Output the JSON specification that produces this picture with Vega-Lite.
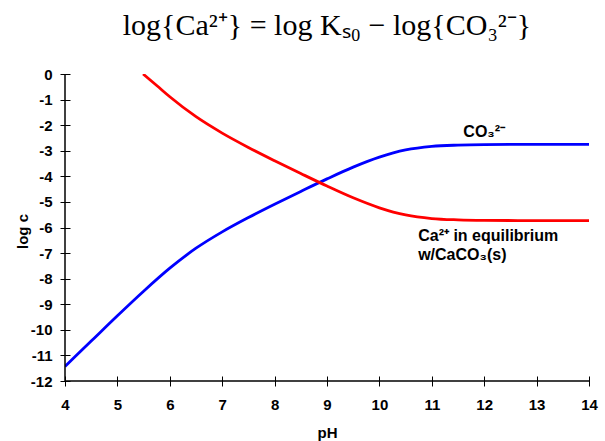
{
  "$schema": "https://vega.github.io/schema/vega-lite/v6.json",
  "width": 524,
  "height": 307,
  "autosize": {"type": "none"},
  "padding": {"left": 65, "top": 74, "right": 16, "bottom": 60},
  "background": "white",
  "title": {
    "text": "log{Ca²⁺} = log Kₛ₀ − log{CO₃²⁻}",
    "font": "Liberation Serif",
    "fontSize": 30,
    "fontWeight": "normal",
    "color": "black",
    "offset": 26
  },
  "config": {"view": {"stroke": null}},
  "datasets": {
    "curves": [
      {"pH": 4, "v": -11.43, "s": "CO3"},
      {"pH": 4.5, "v": -10.44, "s": "CO3"},
      {"pH": 5, "v": -9.45, "s": "CO3"},
      {"pH": 5.5, "v": -8.49, "s": "CO3"},
      {"pH": 6, "v": -7.59, "s": "CO3"},
      {"pH": 6.5, "v": -6.81, "s": "CO3"},
      {"pH": 7, "v": -6.17, "s": "CO3"},
      {"pH": 7.5, "v": -5.61, "s": "CO3"},
      {"pH": 8, "v": -5.09, "s": "CO3"},
      {"pH": 8.5, "v": -4.59, "s": "CO3"},
      {"pH": 9, "v": -4.1, "s": "CO3"},
      {"pH": 9.5, "v": -3.64, "s": "CO3"},
      {"pH": 10, "v": -3.25, "s": "CO3"},
      {"pH": 10.5, "v": -2.97, "s": "CO3"},
      {"pH": 11, "v": -2.83, "s": "CO3"},
      {"pH": 11.5, "v": -2.78, "s": "CO3"},
      {"pH": 12, "v": -2.76, "s": "CO3"},
      {"pH": 13, "v": -2.75, "s": "CO3"},
      {"pH": 14, "v": -2.75, "s": "CO3"},
      {"pH": 5.49, "v": 0, "s": "Ca"},
      {"pH": 5.75, "v": -0.45, "s": "Ca"},
      {"pH": 6, "v": -0.89, "s": "Ca"},
      {"pH": 6.5, "v": -1.67, "s": "Ca"},
      {"pH": 7, "v": -2.31, "s": "Ca"},
      {"pH": 7.5, "v": -2.87, "s": "Ca"},
      {"pH": 8, "v": -3.39, "s": "Ca"},
      {"pH": 8.5, "v": -3.89, "s": "Ca"},
      {"pH": 9, "v": -4.38, "s": "Ca"},
      {"pH": 9.5, "v": -4.84, "s": "Ca"},
      {"pH": 10, "v": -5.23, "s": "Ca"},
      {"pH": 10.5, "v": -5.51, "s": "Ca"},
      {"pH": 11, "v": -5.65, "s": "Ca"},
      {"pH": 11.5, "v": -5.7, "s": "Ca"},
      {"pH": 12, "v": -5.72, "s": "Ca"},
      {"pH": 13, "v": -5.73, "s": "Ca"},
      {"pH": 14, "v": -5.73, "s": "Ca"}
    ],
    "labelCO3": [{"pH": 12.0, "v": -2.46, "t": "CO₃²⁻"}],
    "labelCa": [{"pH": 10.74, "v": -6.52, "t": "Ca²⁺ in equilibrium\nw/CaCO₃(s)"}],
    "frame": [
      {"pH": 4, "v": -12, "pH2": 4, "v2": 0},
      {"pH": 4, "v": -12, "pH2": 14, "v2": -12}
    ]
  },
  "encoding": {
    "x": {
      "field": "pH",
      "type": "quantitative",
      "scale": {"domain": [4, 14], "nice": false, "zero": false},
      "axis": {
        "title": "pH",
        "values": [4, 5, 6, 7, 8, 9, 10, 11, 12, 13, 14],
        "offset": -5,
        "tickSize": 10,
        "tickColor": "black",
        "tickWidth": 1,
        "domain": false,
        "grid": false,
        "labelFlush": false,
        "labelOverlap": false,
        "labelPadding": 11,
        "labelFont": "Liberation Sans",
        "labelFontSize": 15,
        "labelFontWeight": "bold",
        "labelColor": "black",
        "titleFont": "Liberation Sans",
        "titleFontSize": 15,
        "titleFontWeight": "bold",
        "titleColor": "black",
        "titleY": 61,
        "titleBaseline": "alphabetic"
      }
    },
    "y": {
      "field": "v",
      "type": "quantitative",
      "scale": {"domain": [-12, 0], "nice": false, "zero": false},
      "axis": {
        "title": "log c",
        "values": [0, -1, -2, -3, -4, -5, -6, -7, -8, -9, -10, -11, -12],
        "labelExpr": "toString(datum.value)",
        "offset": -5,
        "tickSize": 10,
        "tickColor": "black",
        "tickWidth": 1,
        "domain": false,
        "grid": false,
        "labelOverlap": false,
        "labelPadding": 8,
        "labelFont": "Liberation Sans",
        "labelFontSize": 15,
        "labelFontWeight": "bold",
        "labelColor": "black",
        "titleFont": "Liberation Sans",
        "titleFontSize": 15,
        "titleFontWeight": "bold",
        "titleColor": "black",
        "titleAngle": -90,
        "titleX": -48,
        "titleY": 157,
        "titleAlign": "center",
        "titleBaseline": "middle"
      }
    }
  },
  "layer": [
    {
      "data": {"name": "curves"},
      "mark": {"type": "line", "strokeWidth": 2.8, "interpolate": "monotone", "clip": true},
      "encoding": {
        "color": {
          "field": "s",
          "type": "nominal",
          "scale": {"domain": ["CO3", "Ca"], "range": ["#0000ff", "#ff0000"]},
          "legend": null
        }
      }
    },
    {
      "data": {"name": "frame"},
      "mark": {"type": "rule", "color": "black", "strokeWidth": 1.5},
      "encoding": {
        "x2": {"field": "pH2"},
        "y2": {"field": "v2"}
      }
    },
    {
      "data": {"name": "labelCO3"},
      "mark": {"type": "text", "font": "Liberation Sans", "fontSize": 16, "fontWeight": "bold", "color": "black", "align": "center", "baseline": "alphabetic"},
      "encoding": {"text": {"field": "t"}}
    },
    {
      "data": {"name": "labelCa"},
      "mark": {"type": "text", "font": "Liberation Sans", "fontSize": 16, "fontWeight": "bold", "color": "black", "align": "left", "baseline": "alphabetic", "lineBreak": "\n", "lineHeight": 19},
      "encoding": {"text": {"field": "t"}}
    }
  ]
}
